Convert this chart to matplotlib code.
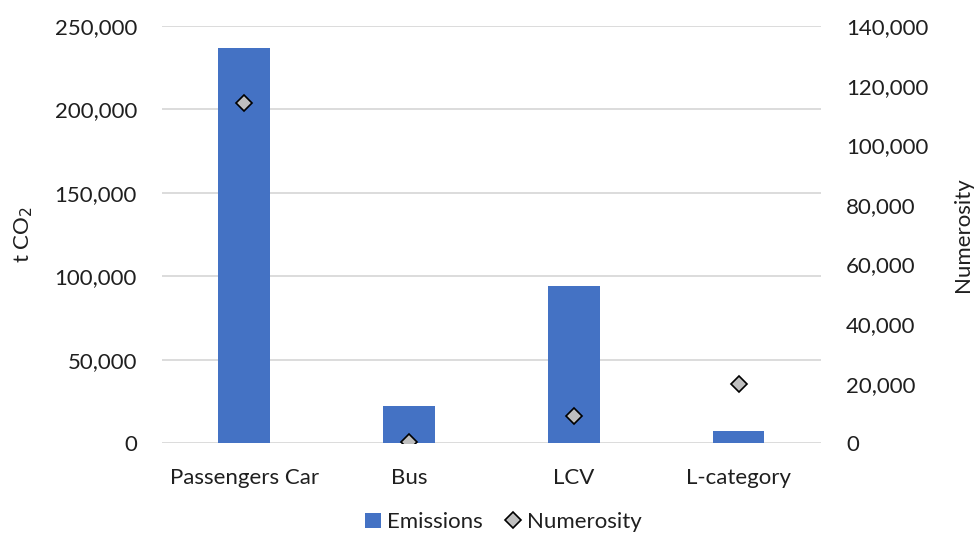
import matplotlib
matplotlib.use("Agg")
import matplotlib.pyplot as plt
from matplotlib.ticker import FuncFormatter, MultipleLocator
from matplotlib.lines import Line2D
from matplotlib.patches import Patch

categories = ["Passengers Car", "Bus", "LCV", "L-category"]
emissions = [237000, 22500, 94000, 7500]        # t CO2
numerosity = [114000, 400, 9000, 20000]         # vehicles

plt.rcParams["font.family"] = ["Lato", "DejaVu Sans"]
FS = 16
TXT = "#1f1f1f"

fig = plt.figure(figsize=(9.74, 5.35), dpi=100)
ax = fig.add_axes([0.1663, 0.1714, 0.6766, 0.78])
ax2 = ax.twinx()

x = list(range(len(categories)))
bar_color = "#4472C4"
ax.bar(x, emissions, width=0.314, color=bar_color, zorder=2)
ax.set_xlim(-0.5, len(categories) - 0.5)
ax.set_ylim(0, 250000)
ax.yaxis.set_major_locator(MultipleLocator(50000))
ax.grid(axis="y", color="#d9d9d9", linewidth=1.3, zorder=0)
ax.set_axisbelow(True)

marker_style = dict(linestyle="none", marker="D", markersize=8.5,
                    markerfacecolor="#bfbfbf", markeredgecolor="black",
                    markeredgewidth=1.2)
ax2.plot(x, numerosity, zorder=3, **marker_style)
ax2.set_ylim(0, 140000)
ax2.yaxis.set_major_locator(MultipleLocator(20000))

fmt = FuncFormatter(lambda v, p: f"{int(v):,}")
ax.yaxis.set_major_formatter(fmt)
ax2.yaxis.set_major_formatter(fmt)

for a in (ax, ax2):
    for s in a.spines.values():
        s.set_visible(False)
    a.tick_params(axis="both", length=0, labelsize=FS, colors=TXT)

ax.tick_params(axis="y", pad=18)
ax2.tick_params(axis="y", pad=18)
ax.set_xticks(x)
ax.set_xticklabels(categories)
ax.tick_params(axis="x", pad=18)

ax.set_ylabel("t CO$_2$", fontsize=FS, color=TXT, labelpad=14)
ax2.set_ylabel("Numerosity", fontsize=FS, color=TXT, labelpad=18)

handles = [
    Patch(facecolor=bar_color, edgecolor="none"),
    Line2D([], [], **marker_style),
]
leg = fig.legend(handles, ["Emissions", "Numerosity"], loc="center",
                 bbox_to_anchor=(0.517, 0.024), ncol=2, frameon=False,
                 fontsize=FS, handlelength=0.7, handleheight=0.7,
                 handletextpad=0.3, columnspacing=1.0)
for t in leg.get_texts():
    t.set_color(TXT)

fig.savefig("out.png", dpi=100)
